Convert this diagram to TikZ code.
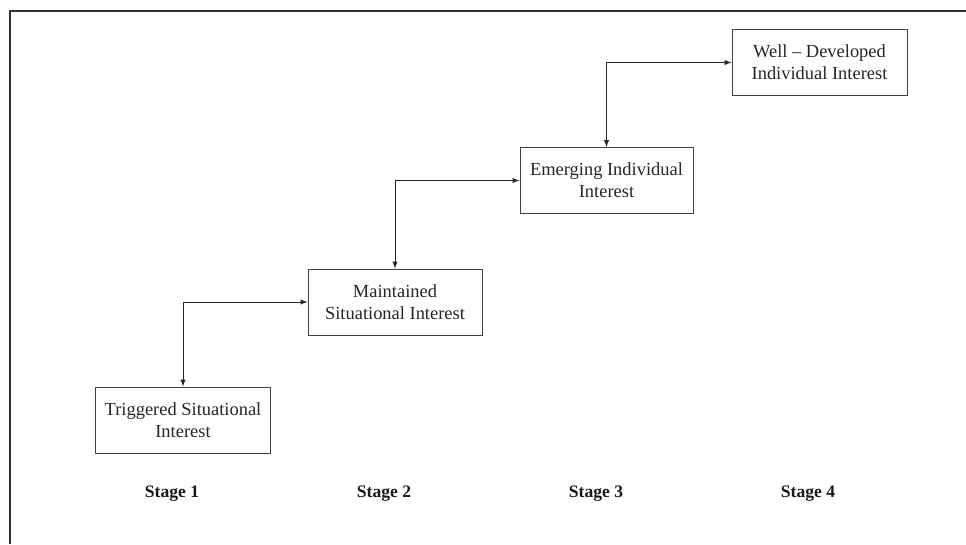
\documentclass[tikz,border=0pt]{standalone}
\usepackage{fontspec}
\setmainfont{Liberation Serif}
\usepackage{tikz}
\usetikzlibrary{positioning}

\begin{document}
\begin{tikzpicture}[x=0.02cm,y=-0.02cm,
    stagebox/.style={draw=black!75, line width=0.5pt, align=center, inner sep=0pt,
        minimum height=1.32cm, text=black!85, font=\fontsize{10.5}{12.5}\selectfont},
    stagelabel/.style={font=\fontsize{10}{12}\selectfont\bfseries, text=black!90}]

\useasboundingbox (0,0) rectangle (966,544);
\draw[black!80, line width=0.9pt] (10,544) -- (10,11) -- (966,11);

\node[stagebox, minimum width=3.5cm] (trig) at (183,420) {Triggered Situational\\Interest};
\node[stagebox, minimum width=3.48cm] (main) at (395,302) {Maintained\\Situational Interest};
\node[stagebox, minimum width=3.46cm] (emer) at (606.5,180.5) {Emerging Individual\\Interest};
\node[stagebox, minimum width=3.5cm] (well) at (819.5,62.5) {Well -- Developed\\Individual Interest};

\foreach \a/\b in {trig/main, main/emer, emer/well} {
    \draw[black!85, latex-latex] (\a.north) |- (\b.west);
}

\foreach \x/\n in {172/1, 384/2, 596/3, 808/4} {
    \node[stagelabel] (stage\n) at (\x,494) {Stage \n};
}
\end{tikzpicture}
\end{document}
